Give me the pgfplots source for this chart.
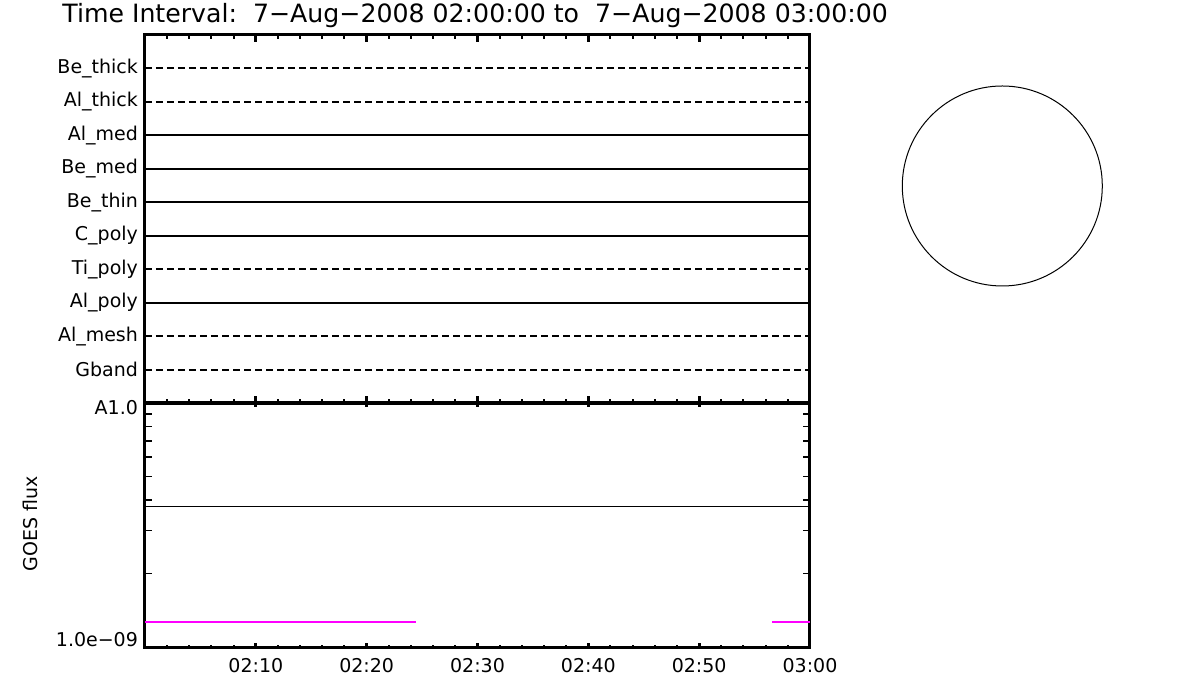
\documentclass[border=0pt]{standalone}
\usepackage{fontspec}
\setmainfont{DejaVu Sans}
\usepackage{pgfplots}
\pgfplotsset{compat=1.18}
\definecolor{idlmagenta}{RGB}{255,0,255}

% pixel (px,py) of the 1200x700 reference -> (0.5px pt, (700-py)*0.5 pt)
\pgfplotsset{
  goes/.style={
    scale only axis, anchor=south west,
    xmin=0, xmax=60,
    xtick={0,10,...,60}, minor x tick num=4,
    tick align=inside, xtick pos=both,
    axis line style={line width=1.5pt},
    major tick style={line width=1.5pt, black},
    minor tick style={line width=1pt, black},
    tick label style={font=\fontsize{9.5}{11}\selectfont},
    /pgf/number format/assume math mode=true,
  },
  chan/.style={black, line width=1pt, no marks, solid},
  chandash/.style={black, line width=1pt, no marks, dash pattern=on 3.5pt off 2pt},
}

\begin{document}
\begin{tikzpicture}
\useasboundingbox (0,0) rectangle (600pt,350pt);

\node[anchor=base west, inner sep=0pt, font=\fontsize{12.6}{14}\selectfont]
  at (31pt,338.5pt) {Time Interval:\ \ 7−Aug−2008 02:00:00 to\ \ 7−Aug−2008 03:00:00};

% filter channels
\begin{axis}[goes,
    width=332.5pt, height=184pt, at={(72.5pt,148.5pt)},
    ymin=0, ymax=11,
    xticklabels={},
    major x tick style={/pgfplots/major tick length=3.5pt},
    minor x tick style={/pgfplots/minor tick length=2pt},
    ytick={1,...,10},
    yticklabels={Gband,Al\_mesh,Al\_poly,Ti\_poly,C\_poly,Be\_thin,Be\_med,Al\_med,Al\_thick,Be\_thick},
    major y tick style={draw=none},
    ytick pos=left,
  ]
  \addplot[chandash] coordinates {(0,10)(60,10)};
  \addplot[chandash] coordinates {(0,9)(60,9)};
  \addplot[chan] coordinates {(0,8)(60,8)};
  \addplot[chan] coordinates {(0,7)(60,7)};
  \addplot[chan] coordinates {(0,6)(60,6)};
  \addplot[chan] coordinates {(0,5)(60,5)};
  \addplot[chandash] coordinates {(0,4)(60,4)};
  \addplot[chan] coordinates {(0,3)(60,3)};
  \addplot[chandash] coordinates {(0,2)(60,2)};
  \addplot[chandash] coordinates {(0,1)(60,1)};
\end{axis}

% GOES flux
\begin{axis}[goes,
    width=332.5pt, height=122pt, at={(72.5pt,26.5pt)},
    ymode=log, ymin=1e-9, ymax=1e-8,
    xticklabels={,02:10,02:20,02:30,02:40,02:50,03:00},
    xticklabel style={yshift=-2pt},
    major x tick style={/pgfplots/major tick length=2.2pt},
    minor x tick style={/pgfplots/minor tick length=1pt},
    ytick={1e-9}, yticklabels={1.0e−09},
    yticklabel style={yshift=3.5pt},
    extra y ticks={1e-8}, extra y tick labels={A1.0},
    extra y tick style={yticklabel style={yshift=-6pt}, major tick style={draw=none}},
    minor ytick={2e-9,3e-9,4e-9,5e-9,6e-9,7e-9,8e-9,9e-9},
    major y tick style={draw=none},
    minor y tick style={/pgfplots/minor tick length=3.5pt, line width=0.75pt},
    ytick pos=both, yticklabel pos=left,
  ]
  \addplot[black, line width=0.5pt, no marks] coordinates {(0,3.75e-9)(60,3.75e-9)};
  \addplot[idlmagenta, line width=1pt, no marks] coordinates {(0,1.266e-9)(24.45,1.266e-9)};
  \addplot[idlmagenta, line width=1pt, no marks] coordinates {(56.6,1.266e-9)(60,1.266e-9)};
\end{axis}

\node[rotate=90, font=\fontsize{9.5}{11}\selectfont] at (15pt,88pt) {GOES flux};

% solar disk outline
\draw[line width=0.5pt] (501.15pt,257pt) circle[radius=50pt];
\end{tikzpicture}
\end{document}
